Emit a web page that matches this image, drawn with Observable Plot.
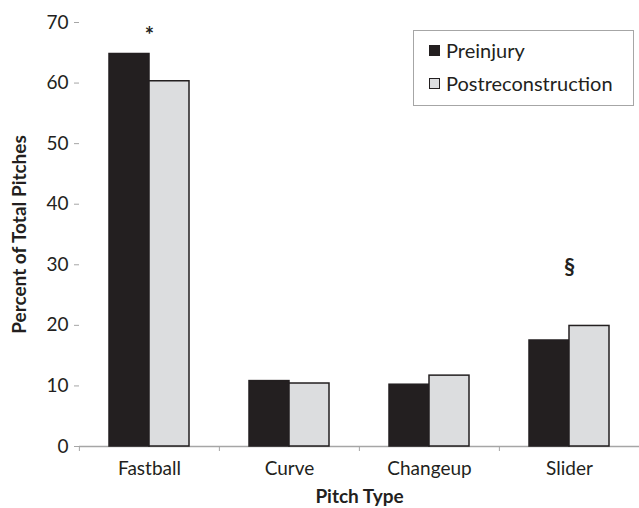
<!DOCTYPE html>
<html><head><meta charset="utf-8">
<script src="https://cdn.jsdelivr.net/npm/d3@7"></script>
<script src="https://cdn.jsdelivr.net/npm/@observablehq/plot@0.6"></script>
<style>
body{margin:0;background:#fff;font-family:Lato,"Open Sans",sans-serif;}
#chart{position:relative;width:639px;height:508px;}
#chart svg [aria-label$="axis label"] text{font-weight:bold;font-size:19px;}
.legend{position:absolute;left:413px;top:30px;width:221px;height:76px;border:1px solid #a6a6a6;box-sizing:border-box;background:#fff;font-size:20px;color:#231f20;}
.legend .item{position:absolute;left:15px;display:flex;align-items:center;line-height:24px;}
.legend .sw{width:11px;height:11px;border:1px solid #231f20;box-sizing:border-box;margin-right:6px;}
</style></head><body>
<div id="chart"></div>
<script>
const categories = ["Fastball", "Curve", "Changeup", "Slider"];
const series = ["Preinjury", "Postreconstruction"];
const preinjury = [64.8, 10.8, 10.2, 17.5];
const postreconstruction = [60.3, 10.4, 11.7, 19.9];
const annotationCategories = ["Fastball", "Slider"];
const annotationSymbols = ["*", "§"];
const annotationValues = [67.8, 29.4];
const yTicks = [0, 10, 20, 30, 40, 50, 60, 70];
const seriesColors = ["#231f20", "#dcdddf"];

const W = 639, H = 508, ML = 78, MR = 0, MT = 22, MB = 62;
const facetW = (W - ML - MR) / categories.length;

const bars = [];
categories.forEach((c, i) => {
  bars.push({category: c, series: series[0], value: preinjury[i]});
  bars.push({category: c, series: series[1], value: postreconstruction[i]});
});
const notes = annotationCategories.map((c, i) => ({category: c, symbol: annotationSymbols[i], value: annotationValues[i]}));

const chart = Plot.plot({
  width: W, height: H,
  marginLeft: ML, marginRight: MR, marginTop: MT, marginBottom: MB,
  style: {fontFamily: "Lato, 'Open Sans', sans-serif", fontSize: "19px", color: "#231f20", background: "#fff", overflow: "visible"},
  fx: {domain: categories, padding: 0},
  x: {domain: series, paddingInner: 0, paddingOuter: 0.73, axis: null},
  y: {domain: [0, 70]},
  color: {domain: series, range: seriesColors},
  marks: [
    Plot.ruleY([0], {stroke: "#a6a6a6", strokeWidth: 1.5}),
    Plot.ruleX([categories[0]], {fx: d => d, dx: -facetW / 2, stroke: "#a6a6a6", strokeWidth: 1.5}),
    Plot.axisY({ticks: yTicks, tickSize: 5, tickPadding: 6, stroke: "#a6a6a6", label: "Percent of Total Pitches", labelAnchor: "center", labelOffset: 67, labelArrow: false}),
    Plot.axisFx({anchor: "bottom", tickSize: 5, dx: -facetW / 2, tickFormat: () => "", stroke: "#a6a6a6", label: null}),
    Plot.axisFx({anchor: "bottom", tickSize: 0, tickPadding: 15, label: "Pitch Type", labelAnchor: "center", labelOffset: 56, labelArrow: false}),
    Plot.barY(bars, {fx: "category", x: "series", y: "value", fill: "series", stroke: "#231f20", strokeWidth: 1.5}),
    Plot.text(notes, {fx: "category", y: "value", text: "symbol", fontWeight: "bold", fontSize: 22})
  ]
});
const root = document.getElementById("chart");
root.appendChild(chart);
const legend = document.createElement("div");
legend.className = "legend";
series.forEach((s, i) => {
  const item = document.createElement("div");
  item.className = "item";
  item.style.top = (i === 0 ? 7 : 40) + "px";
  const sw = document.createElement("span");
  sw.className = "sw";
  sw.style.background = seriesColors[i];
  const label = document.createElement("span");
  label.textContent = s;
  item.appendChild(sw); item.appendChild(label);
  legend.appendChild(item);
});
root.appendChild(legend);
</script>
</body></html>
